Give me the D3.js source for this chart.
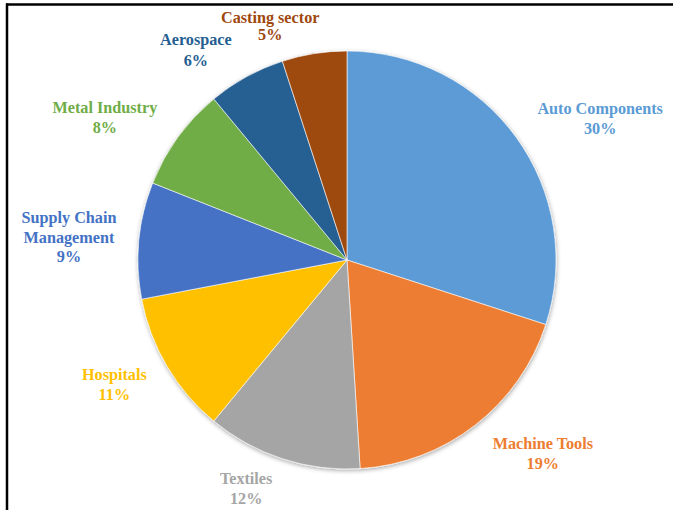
<!DOCTYPE html>
<html>
<head>
<meta charset="utf-8">
<script src="https://cdn.jsdelivr.net/npm/d3@7"></script>
<style>
  html, body { margin: 0; padding: 0; background: #fff; }
  svg { display: block; }
  .lbl { font-family: "Liberation Serif", "Times New Roman", serif; font-weight: bold; font-size: 16.2px; }
</style>
</head>
<body>
<svg id="chart" width="673" height="510"></svg>
<script>
// Share of each sector, in percent, clockwise from 12 o'clock
const sectors = ["Auto Components", "Machine Tools", "Textiles", "Hospitals",
                 "Supply Chain Management", "Metal Industry", "Aerospace", "Casting sector"];
const shares  = [30, 19, 12, 11, 9, 8, 6, 5];
const colors  = ["#5B9BD5", "#ED7D31", "#A5A5A5", "#FFC000",
                 "#4472C4", "#70AD47", "#255E91", "#9E480E"];
// Label text split into lines
const labelLines = [["Auto Components"], ["Machine Tools"], ["Textiles"], ["Hospitals"],
                    ["Supply Chain", "Management"], ["Metal Industry"], ["Aerospace"], ["Casting sector"]];

const width = 673, height = 510;
const cx = 347, cy = 260, radius = 209;

const svg = d3.select("#chart");

// frame lines (top and left)
svg.append("line").attr("x1", 6).attr("x2", width).attr("y1", 4.5).attr("y2", 4.5)
  .attr("stroke", "#000").attr("stroke-width", 2.5);
svg.append("line").attr("x1", 7).attr("x2", 7).attr("y1", 3.5).attr("y2", height)
  .attr("stroke", "#000").attr("stroke-width", 2.5);

const defs = svg.append("defs");
const shadow = defs.append("filter").attr("id", "shadow")
  .attr("x", "-10%").attr("y", "-10%").attr("width", "120%").attr("height", "120%");
shadow.append("feDropShadow").attr("dx", 0.5).attr("dy", 1.5).attr("stdDeviation", 2)
  .attr("flood-color", "#000").attr("flood-opacity", 0.35);

const color = d3.scaleOrdinal().domain(sectors).range(colors);

const pie = d3.pie().sort(null).value(d => d.value);
const data = sectors.map((s, i) => ({ name: s, value: shares[i], lines: labelLines[i] }));
const arcs = pie(data);

const arc = d3.arc().innerRadius(0).outerRadius(radius);

const g = svg.append("g").attr("transform", `translate(${cx},${cy})`);

g.append("g").attr("filter", "url(#shadow)")
  .selectAll("path").data(arcs).join("path")
  .attr("d", arc)
  .attr("fill", d => color(d.data.name))
  .attr("stroke", "#fff").attr("stroke-width", 0.6);

// label placement: angular nudge (degrees) from the slice mid-angle, and distance from the centre
const labelPlace = {
  "Auto Components":         { turn:  6.8, dist: 290, lh: 20 },
  "Machine Tools":           { turn: -7.6, dist: 275, lh: 20 },
  "Textiles":                { turn:  5.8, dist: 250, lh: 20 },
  "Hospitals":               { turn:  2.4, dist: 264, lh: 20 },
  "Supply Chain Management": { turn: -0.7, dist: 279, lh: 19.5 },
  "Metal Industry":          { turn: -5.5, dist: 281, lh: 20 },
  "Aerospace":               { turn: -6.9, dist: 259, lh: 20.5 },
  "Casting sector":          { turn: -9.2, dist: 246, lh: 17 }
};

arcs.forEach(d => {
  const p = labelPlace[d.data.name];
  const mid = (d.startAngle + d.endAngle) / 2 + p.turn * Math.PI / 180;
  const [x, y] = d3.pointRadial(mid, p.dist);
  const lines = d.data.lines.concat([d3.format(".0%")(d.data.value / 100)]);
  const top = y - (lines.length - 1) * p.lh / 2;
  const t = g.append("text").attr("class", "lbl")
    .attr("fill", color(d.data.name))
    .attr("text-anchor", "middle");
  lines.forEach((ln, k) => {
    t.append("tspan").attr("x", x).attr("y", top + k * p.lh).attr("dy", "0.35em").text(ln);
  });
});
</script>
</body>
</html>
